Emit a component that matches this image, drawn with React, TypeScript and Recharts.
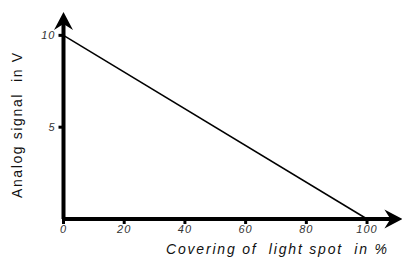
import React from 'react';
import { LineChart, Line, XAxis, YAxis } from 'recharts';

const coverage = [0, 100];
const signal = [10, 0];
const xTicks = [0, 20, 40, 60, 80, 100];
const yTicks = [5, 10];
const xTitle = 'Covering of  light spot  in %';
const yTitle = 'Analog signal  in V';

const data = coverage.map((c, i) => ({ x: c, y: signal[i] }));

const FONT = '"Liberation Sans", Arial, sans-serif';

const XLabel = (props: any) => {
  const vb = props.viewBox || { x: 0, y: 0, width: 0, height: 0 };
  return (
    <text
      x={vb.x + 102.5}
      y={vb.y + 35}
      textAnchor="start"
      fontFamily={FONT}
      fontStyle="italic"
      fontSize={14}
      textLength={221}
      lengthAdjust="spacing"
      fill="#111"
      style={{ whiteSpace: 'pre' }}
    >
      {xTitle}
    </text>
  );
};

const YLabel = (props: any) => {
  const vb = props.viewBox || { x: 0, y: 0, width: 0, height: 0 };
  const cx = vb.x + 22;
  const cy = vb.y + 181;
  return (
    <text
      x={cx}
      y={cy}
      textAnchor="start"
      transform={`rotate(-90, ${cx}, ${cy})`}
      fontFamily={FONT}
      fontSize={14}
      textLength={145}
      lengthAdjust="spacing"
      fill="#111"
      style={{ whiteSpace: 'pre' }}
    >
      {yTitle}
    </text>
  );
};

export default function App() {
  return (
    <div style={{ position: 'absolute', left: 0, top: 0, width: 403, height: 258, background: '#fff' }}>
      <svg width={0} height={0} style={{ position: 'absolute' }}>
        <defs>
          <marker
            id="arrowHead"
            viewBox="0 0 18 20"
            markerWidth={18}
            markerHeight={20}
            refX={13}
            refY={10}
            orient="auto-start-reverse"
            markerUnits="userSpaceOnUse"
          >
            <path d="M0,0.5 L18,10 L0,19.5 L6,10 z" fill="#000" />
          </marker>
        </defs>
      </svg>
      <LineChart
        width={403}
        height={258}
        data={data}
        margin={{ top: 17, right: 5.6, bottom: 0, left: 0 }}
      >
        <XAxis
          dataKey="x"
          type="number"
          domain={[0, 110]}
          ticks={xTicks}
          height={39}
          axisLine={{ stroke: '#000', strokeWidth: 4, markerEnd: 'url(#arrowHead)' } as any}
          tickLine={{ stroke: '#000', strokeWidth: 3 }}
          tickSize={5}
          tickMargin={1}
          tick={{ fontFamily: FONT, fontStyle: 'italic', fontSize: 11, fill: '#333', letterSpacing: 1 }}
          label={<XLabel />}
        />
        <YAxis
          type="number"
          domain={[0, 11]}
          ticks={yTicks}
          width={63.5}
          axisLine={{ stroke: '#000', strokeWidth: 4, markerStart: 'url(#arrowHead)' } as any}
          tickLine={{ stroke: '#000', strokeWidth: 3 }}
          tickSize={5}
          tickMargin={3}
          tick={{ fontFamily: FONT, fontStyle: 'italic', fontSize: 11, fill: '#333', letterSpacing: 1 }}
          label={<YLabel />}
        />
        <Line
          dataKey="y"
          stroke="#000"
          strokeWidth={1.5}
          dot={false}
          isAnimationActive={false}
        />
      </LineChart>
    </div>
  );
}
